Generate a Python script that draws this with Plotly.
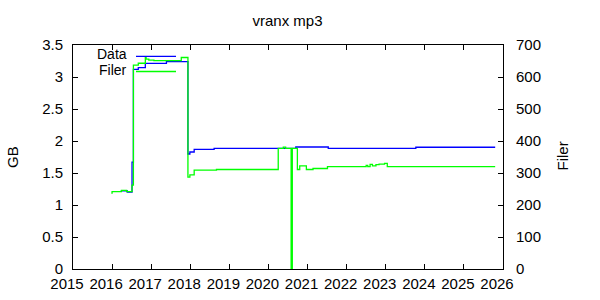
import plotly.graph_objects as go

# ---- data ----
data_years = [2016.22, 2016.39, 2016.51, 2016.545, 2016.67, 2016.85, 2017.39,
              2017.94, 2017.99, 2018.10, 2018.61, 2020.70, 2021.53, 2023.77, 2025.80]
data_gb = [1.22, 1.20, 1.67, 3.12, 3.145, 3.214, 3.239,
           1.797, 1.828, 1.87, 1.886, 1.906, 1.886, 1.902, 1.902]

filer_years = [2015.98, 2016.00, 2016.24, 2016.37, 2016.51, 2016.545, 2016.67,
               2016.85, 2016.87, 2016.94, 2017.07, 2017.77, 2017.94, 2017.99,
               2018.10, 2018.67, 2020.25, 2020.38, 2020.44, 2020.58, 2020.61,
               2020.74, 2020.80, 2020.97, 2021.14, 2021.51, 2022.50, 2022.54,
               2022.60, 2022.66, 2022.75, 2022.83, 2022.97, 2023.04, 2025.80]
filer_count = [237, 242, 246, 242, 262, 637, 643,
               661, 656, 653, 651, 661, 287, 294,
               309, 311, 377, 381, 377, 0, 377,
               311, 322, 311, 314, 320, 324, 320,
               327, 322, 326, 328, 330, 320, 320]

x_ticks = list(range(2015, 2027))
y_ticks = [0, 0.5, 1, 1.5, 2, 2.5, 3, 3.5]
y2_ticks = [0, 100, 200, 300, 400, 500, 600, 700]

title_text = "vranx mp3"
series_names = ["Data", "Filer"]
colors = ["#0000ff", "#00ff00"]

FONT = "Liberation Sans, Arial, sans-serif"

fig = go.Figure()
fig.add_trace(go.Scatter(x=data_years, y=data_gb, mode="lines", name=series_names[0],
                         line=dict(color=colors[0], width=1.3, shape="hv"), yaxis="y"))
fig.add_trace(go.Scatter(x=filer_years, y=filer_count, mode="lines", name=series_names[1],
                         line=dict(color=colors[1], width=1.3, shape="hv"), yaxis="y2"))

W, H = 600, 300
L, R, T, B = 73, 97, 45, 31
pw, ph = W - L - R, H - T - B

def px(xp):
    return (xp - L) / pw

def py(yp):
    return 1 - (yp - T) / ph

axis_common = dict(showgrid=False, zeroline=False, showline=True, linecolor="black",
                   linewidth=1, ticks="inside", ticklen=5, tickcolor="black",
                   automargin=False,
                   tickfont=dict(family=FONT, size=15, color="black"))

fig.update_layout(
    width=W, height=H,
    margin=dict(l=L, r=R, t=T, b=B, autoexpand=False),
    plot_bgcolor="white", paper_bgcolor="white",
    showlegend=False,
    title=dict(text=title_text, x=287.5 / W, xref="container", xanchor="center",
               y=1 - 21 / H, yref="container", yanchor="middle", automargin=False,
               font=dict(family=FONT, size=15, color="black")),
    xaxis=dict(range=[2015, 2026], tickvals=x_ticks, ticktext=[str(v) for v in x_ticks],
               mirror="ticks", ticklabelshift=-6, ticklabelstandoff=1, **axis_common),
    yaxis=dict(range=[0, 3.5], tickvals=y_ticks, ticklabelstandoff=6, mirror=True,
               **axis_common),
    yaxis2=dict(range=[0, 700], tickvals=y2_ticks, overlaying="y", side="right",
                ticklabelstandoff=9, **axis_common),
)

# axis titles
fig.add_annotation(text="GB", xref="paper", yref="paper", x=px(12), y=py(157),
                   textangle=-90, showarrow=False, xanchor="center", yanchor="middle",
                   font=dict(family=FONT, size=15, color="black"))
fig.add_annotation(text="Filer", xref="paper", yref="paper", x=px(561.5), y=py(156),
                   textangle=-90, showarrow=False, xanchor="center", yanchor="middle",
                   font=dict(family=FONT, size=15, color="black"))

# gnuplot-style key: text right-aligned, sample line to the right
key_text_rows = [53.5, 70]
key_line_rows = [56.3, 71.5]
for name, color, ty, ly in zip(series_names, colors, key_text_rows, key_line_rows):
    fig.add_annotation(text=name, xref="paper", yref="paper", x=px(128), y=py(ty),
                       showarrow=False, xanchor="right", yanchor="middle", borderpad=0,
                       font=dict(family=FONT, size=14, color="black"))
    fig.add_shape(type="line", xref="paper", yref="paper", x0=px(136), x1=px(176),
                  y0=py(ly), y1=py(ly), line=dict(color=color, width=1.3))

fig.write_html("out.html")
